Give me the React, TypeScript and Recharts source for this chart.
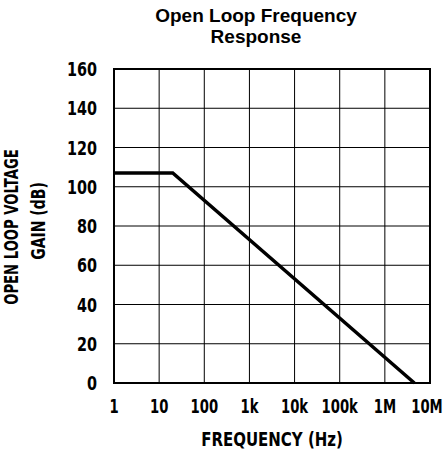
import {
  LineChart,
  Line,
  XAxis,
  YAxis,
  CartesianGrid,
  ReferenceArea,
  Label,
} from "recharts";

const freqs = [1, 20, 4.5e6];
const gains = [107, 107, 0];
const xTicks = [1, 10, 100, 1e3, 1e4, 1e5, 1e6, 1e7];
const xTickLabels = ["1", "10", "100", "1k", "10k", "100k", "1M", "10M"];
const yTicks = [0, 20, 40, 60, 80, 100, 120, 140, 160];

const data = freqs.map((f, i) => ({ f, gain: gains[i] }));

const font = "'DejaVu Sans', sans-serif";
const titleFont = "'Liberation Sans', Arial, sans-serif";

const XTick = (props: any) => {
  const { x, y, payload } = props;
  const idx = xTicks.indexOf(payload.value);
  const label = xTickLabels[idx] ?? String(payload.value);
  // last label sits right on the page edge, nudge it in a bit
  const dx = idx === xTicks.length - 1 ? -3 : 0;
  return (
    <text
      transform={`translate(${x + dx} ${y}) scale(0.66 1)`}
      dy="0.71em"
      textAnchor="middle"
      fontFamily={font}
      fontWeight="bold"
      fontSize={20}
      fill="#000"
    >
      {label}
    </text>
  );
};

const YTick = (props: any) => {
  const { x, y, payload } = props;
  return (
    <text
      transform={`translate(${x} ${y}) scale(0.72 1)`}
      dy="0.355em"
      textAnchor="end"
      fontFamily={font}
      fontWeight="bold"
      fontSize={20}
      fill="#000"
    >
      {payload.value}
    </text>
  );
};

const YLabel = (props: any) => {
  const vb = props.viewBox;
  const cy = vb.y + vb.height / 2;
  return (
    <g fontFamily={font} fontWeight="bold" fontSize={20} fill="#000">
      <text textAnchor="middle" transform={`translate(18 ${cy + 1}) rotate(-90) scale(0.66 1)`}>
        OPEN LOOP VOLTAGE
      </text>
      <text textAnchor="middle" transform={`translate(45 ${cy - 5}) rotate(-90) scale(0.7 1)`}>
        GAIN (dB)
      </text>
    </g>
  );
};

const XLabel = (props: any) => {
  const vb = props.viewBox;
  return (
    <text
      transform={`translate(${vb.x + vb.width / 2} ${vb.y + 63}) scale(0.75 1)`}
      textAnchor="middle"
      fontFamily={font}
      fontWeight="bold"
      fontSize={20}
      fill="#000"
    >
      FREQUENCY (Hz)
    </text>
  );
};

export default function App() {
  return (
    <div style={{ position: "absolute", left: 0, top: 0, width: 444, height: 457, background: "#fff" }}>
      <LineChart width={444} height={457} data={data} margin={{ top: 69, right: 14, bottom: 0, left: 0 }}>
        <text x={256} y={22} textAnchor="middle" fontFamily={titleFont} fontWeight="bold" fontSize={19} fill="#000">
          Open Loop Frequency
        </text>
        <text x={256} y={43} textAnchor="middle" fontFamily={titleFont} fontWeight="bold" fontSize={19} fill="#000">
          Response
        </text>
        <CartesianGrid stroke="#000" strokeWidth={1} />
        <XAxis
          dataKey="f"
          type="number"
          scale="log"
          domain={[1, 1e7]}
          ticks={xTicks}
          interval={0}
          height={74}
          tickLine={false}
          axisLine={false}
          tickSize={0}
          tickMargin={16}
          tick={<XTick />}
          allowDataOverflow
        >
          <Label content={<XLabel />} />
        </XAxis>
        <YAxis
          type="number"
          domain={[0, 160]}
          ticks={yTicks}
          interval={0}
          width={114}
          tickLine={false}
          axisLine={false}
          tickSize={0}
          tickMargin={17}
          tick={<YTick />}
        >
          <Label content={<YLabel />} />
        </YAxis>
        <ReferenceArea x1={1} x2={1e7} y1={0} y2={160} fill="none" stroke="#000" strokeWidth={2} ifOverflow="visible" />
        <Line
          type="linear"
          dataKey="gain"
          stroke="#000"
          strokeWidth={3.5}
          dot={false}
          isAnimationActive={false}
        />
      </LineChart>
    </div>
  );
}
